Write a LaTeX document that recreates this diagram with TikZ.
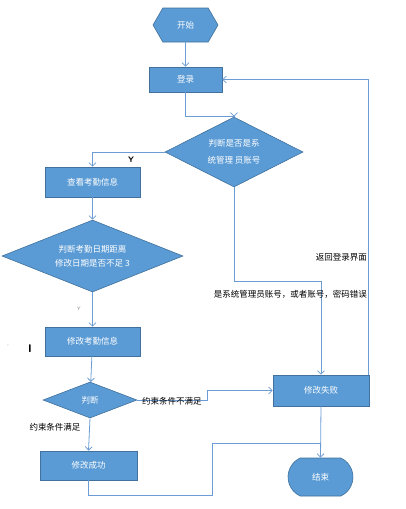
\documentclass[tikz,border=0pt]{standalone}
\usepackage{fontspec}
\newfontfamily\cjk{Noto Sans CJK SC}
\usetikzlibrary{shapes.geometric,shapes.misc,shapes.symbols,arrows.meta}
\definecolor{boxfill}{HTML}{5B9BD5}
\definecolor{boxline}{HTML}{41719C}
\definecolor{lineblue}{HTML}{6C9CD4}
\begin{document}
\begin{tikzpicture}[x=1pt,y=-1pt,
  shp/.style={draw=boxline, line width=0.6pt, fill=boxfill, text=white, inner sep=0pt, align=center,
    font=\cjk\fontsize{8.5}{14}\selectfont},
  box/.style={shp, rectangle, minimum width=#1},
  dia/.style={shp, diamond, aspect=2.5},
  line/.style={draw=lineblue, line width=0.8pt},
  arr/.style={line, -{Straight Barb[length=3.5pt,width=7pt]}},
  lbl/.style={font=\cjk\fontsize{8.5}{10}\selectfont, text=black, inner sep=0pt}]
\useasboundingbox (0,0) rectangle (406,509);

% nodes
\node[shp, signal, signal to=west and east, signal pointer angle=120,
      minimum width=65pt, minimum height=34pt] (start) at (185.5,25) {开始};
\node[box=73pt, minimum height=25pt] (login) at (185.5,79.5) {登录};
\node[dia, minimum width=138pt, minimum height=70pt,
      font=\cjk\fontsize{8.5}{17}\selectfont] (d1) at (234,152) {判断是否是系\\统管理 员账号};
\node[box=95pt, minimum height=30pt] (view) at (92.5,182) {查看考勤信息};
\node[dia, minimum width=181pt, minimum height=72pt] (d2) at (92.5,256) {判断考勤日期距离\\修改日期是否不足 3};
\node[box=95pt, minimum height=29pt] (modify) at (92.5,341.5) {修改考勤信息};
\node[dia, minimum width=94pt, minimum height=36pt] (d3) at (90,400) {判断};
\node[box=96pt, minimum height=31pt] (fail) at (321,390.5) {修改失败};
\node[box=97pt, minimum height=29pt] (succ) at (88.5,465.5) {修改成功};
\node[shp, rounded rectangle, rounded rectangle arc length=130,
      minimum width=65pt, minimum height=38pt] (end) at (320.5,477) {结束};
\coordinate (j) at (320.5,443);

% connectors
\draw[arr] (start) -- (login);
\draw[arr] (login.south) -- ++(0,24) -| (d1.north);
\draw[arr] (d1.west) -| (view.north);
\draw[arr] (view) -- (d2);
\draw[arr] (d2) -- (modify);
\draw[arr] (modify) -- (d3);
\draw[arr] (d3.south) -- (succ.north);
\draw[arr] (d3.east) -- (207,400) |- (fail.west);
\draw[arr] (d1.south) -- ++(0,94) -| (fail.north);
\draw[arr] ([xshift=-1pt]fail.north east) |- (login.east);
\draw[arr] (fail.south) -- (end.north);
\draw[line] (succ.south) |- (212,495) |- (j);

% labels
\node[font=\sffamily\bfseries\fontsize{8}{9}\selectfont, inner sep=0pt] (ylab1) at (131,160) {Y};
\node[font=\sffamily\fontsize{5}{6}\selectfont, text=gray, inner sep=0pt] (ylab2) at (79,309) {Y};
\node[font=\sffamily\fontsize{5}{6}\selectfont, text=gray, inner sep=0pt] (tick) at (8,347) {ˇ};
\node[font=\sffamily\bfseries\fontsize{11}{12}\selectfont, inner sep=0pt] (cur) at (30,349) {I};
\node[lbl, anchor=east] (back) at (367,257) {返回登录界面};
\node[lbl, anchor=east] (err) at (367,294) {是系统管理员账号，或者账号，密码错误};
\node[lbl, anchor=west] (notok) at (142,401) {约束条件不满足};
\node[lbl] (ok) at (55,427) {约束条件满足};
\end{tikzpicture}
\end{document}
